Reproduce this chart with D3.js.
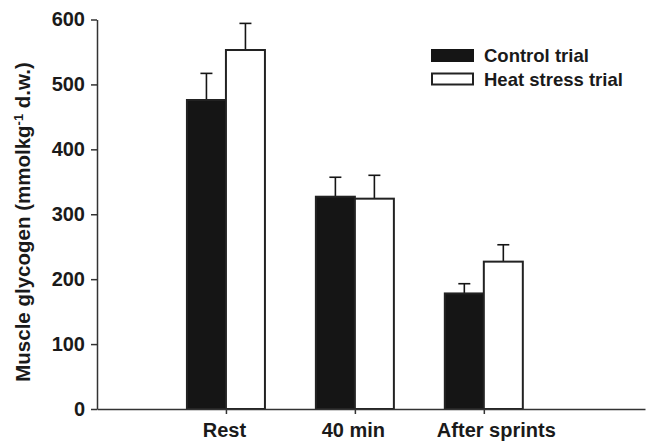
<!DOCTYPE html>
<html>
<head>
<meta charset="utf-8">
<script src="https://cdn.jsdelivr.net/npm/d3@7"></script>
<style>
  body { margin: 0; background: #fff; }
  text { font-family: "Liberation Sans", Arial, sans-serif; font-weight: bold; fill: #1a1a1a; }
</style>
</head>
<body>
<svg width="646" height="442"></svg>
<script>
const categories = ["Rest", "40 min", "After sprints"];
const seriesNames = ["Control trial", "Heat stress trial"];
const controlMean = [476, 327, 178];
const controlSE = [41, 30, 15];
const heatMean = [553, 324, 227];
const heatSE = [41, 36, 26];
const yTicks = [0, 100, 200, 300, 400, 500, 600];

const svg = d3.select("svg");
const ink = "#151515";

// y scale: 0 at baseline, 600 at top
const y = d3.scaleLinear().domain([0, 600]).range([409, 19.5]);
// x positions: categories sit at 1, 2, 3
const x = d3.scaleLinear().domain([0, 4.25]).range([97, 645]);
const barW = 39;

const rows = categories.map((c, i) => ({
    cat: c, idx: i + 1,
    values: [
        {key: seriesNames[0], mean: controlMean[i], se: controlSE[i], side: -1},
        {key: seriesNames[1], mean: heatMean[i], se: heatSE[i], side: 0}
    ]
}));

const groups = svg.append("g").selectAll("g")
    .data(rows)
    .join("g")
    .attr("transform", d => `translate(${x(d.idx)},0)`);

// error bars (drawn first so bar outline covers the foot)
groups.selectAll(".err")
    .data(d => d.values)
    .join("g")
    .attr("class", "err")
    .each(function(d) {
        const g = d3.select(this);
        const cx = d.side * barW + barW / 2;
        g.append("line")
            .attr("x1", cx).attr("x2", cx)
            .attr("y1", y(d.mean)).attr("y2", y(d.mean + d.se))
            .attr("stroke", ink).attr("stroke-width", 1.6);
        g.append("line")
            .attr("x1", cx - 6).attr("x2", cx + 6)
            .attr("y1", y(d.mean + d.se)).attr("y2", y(d.mean + d.se))
            .attr("stroke", ink).attr("stroke-width", 1.6);
    });

groups.selectAll("rect")
    .data(d => d.values)
    .join("rect")
    .attr("x", d => d.side * barW)
    .attr("y", d => y(d.mean))
    .attr("width", barW)
    .attr("height", d => y(0) - y(d.mean))
    .attr("fill", d => d.side < 0 ? ink : "#fff")
    .attr("stroke", "#222")
    .attr("stroke-width", 2);

// y axis
svg.append("g")
    .attr("transform", `translate(${x(0)},0)`)
    .call(d3.axisLeft(y).tickValues(yTicks).tickSize(6).tickPadding(6).tickSizeOuter(0))
    .call(g => g.selectAll("path, line").attr("stroke", "#333").attr("stroke-width", 1.5))
    .call(g => g.selectAll("text").attr("font-size", "20px").attr("fill", "#1a1a1a")
        .attr("font-family", "Liberation Sans, Arial, sans-serif").attr("font-weight", "bold"));

// x axis
svg.append("g")
    .attr("transform", `translate(0,${y(0)})`)
    .call(d3.axisBottom(x).tickValues([1, 2, 3]).tickFormat(d => categories[d - 1])
        .tickSize(5).tickPadding(8.5).tickSizeOuter(0))
    .call(g => g.selectAll("path, line").attr("stroke", "#333").attr("stroke-width", 1.5))
    .call(g => g.selectAll("text").attr("font-size", "20px").attr("fill", "#1a1a1a")
        .attr("font-family", "Liberation Sans, Arial, sans-serif").attr("font-weight", "bold")
        .attr("dx", d => d === 3 ? 12 : -2));

// y axis title
const title = svg.append("text")
    .attr("transform", "translate(30,222) rotate(-90)")
    .attr("text-anchor", "middle")
    .attr("font-size", "20.5px");
title.append("tspan").text("Muscle glycogen (mmolkg");
title.append("tspan").attr("dy", -7).attr("font-size", "13px").text("-1");
title.append("tspan").attr("dy", 7).text(" d.w.)");

// legend
const legend = svg.append("g").attr("transform", "translate(431,49)");
legend.selectAll("g")
    .data(seriesNames)
    .join("g")
    .attr("transform", (d, i) => `translate(0,${i * 23.5})`)
    .each(function(d, i) {
        const g = d3.select(this);
        g.append("rect")
            .attr("x", i ? 1 : 0).attr("y", i ? 1 : 0)
            .attr("width", i ? 41 : 43).attr("height", i ? 11 : 13)
            .attr("fill", i ? "#fff" : ink)
            .attr("stroke", "#222").attr("stroke-width", i ? 2 : 0);
        g.append("text")
            .attr("x", 53).attr("y", 13)
            .attr("font-size", "18.5px")
            .text(d);
    });
</script>
</body>
</html>
